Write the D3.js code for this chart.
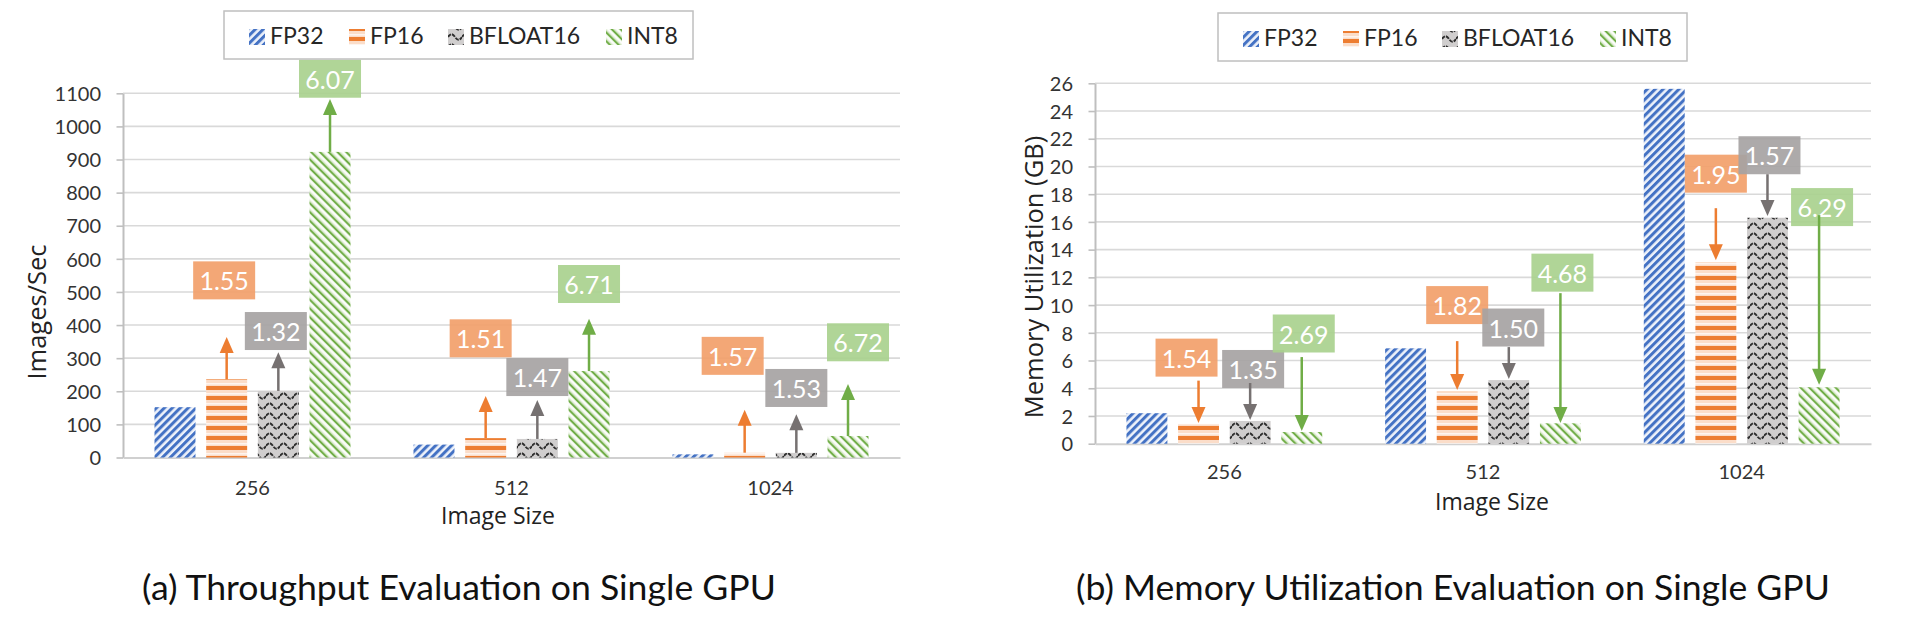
<!DOCTYPE html>
<html><head><meta charset="utf-8">
<script src="https://cdn.jsdelivr.net/npm/d3@7"></script>
<style>html,body{margin:0;padding:0;background:#fff;} svg{display:block}</style>
</head><body>
<svg id="chart" width="1920" height="620"></svg>
<script>
// ---------------- DATA ----------------
const categories = ["256", "512", "1024"];
const seriesNames = ["FP32", "FP16", "BFLOAT16", "INT8"];

// (a) Throughput (Images/Sec)
const thrFP32 = [152, 39, 9.5];
const thrFP16 = [236, 58.5, 14.5];
const thrBF16 = [201, 56, 14];
const thrINT8 = [923, 261, 65];
const thrTicks = [0, 100, 200, 300, 400, 500, 600, 700, 800, 900, 1000, 1100];
const thrRatioFP16 = ["1.55", "1.51", "1.57"];
const thrRatioBF16 = ["1.32", "1.47", "1.53"];
const thrRatioINT8 = ["6.07", "6.71", "6.72"];
// annotation anchors, in axis units
const thrTipFP16 = [364, 186, 144];
const thrTipBF16 = [318, 174, 131];
const thrTipINT8 = [1083, 419, 222];
const thrLabelFP16 = [535, 360, 307];
const thrLabelBF16 = [382, 243, 210];
const thrLabelINT8 = [1144, 524, 348];

// (b) Memory Utilization (GB)
const memFP32 = [2.2, 6.88, 25.6];
const memFP16 = [1.43, 3.8, 13.1];
const memBF16 = [1.64, 4.59, 16.3];
const memINT8 = [0.84, 1.47, 4.07];
const memTicks = [0, 2, 4, 6, 8, 10, 12, 14, 16, 18, 20, 22, 24, 26];
const memRatioFP16 = ["1.54", "1.82", "1.95"];
const memRatioBF16 = ["1.35", "1.50", "1.57"];
const memRatioINT8 = ["2.69", "4.68", "6.29"];
const memTailFP16 = [4.55, 7.40, 16.99];
const memTailBF16 = [4.38, 6.97, 19.44];
const memTailINT8 = [6.25, 10.86, 16.49];
const memTipFP16 = [1.49, 3.87, 13.24];
const memTipBF16 = [1.71, 4.66, 16.42];
const memTipINT8 = [0.92, 1.49, 4.25];
const memLabelFP16 = [6.21, 10.0, 19.48];
const memLabelBF16 = [5.39, 8.38, 20.81];
const memLabelINT8 = [7.95, 12.34, 17.07];

// ---------------- LAYOUT / STYLE ----------------
const svg = d3.select("#chart");
const boxColor = {FP16: "#F2A06A", BFLOAT16: "#A6A3A3", INT8: "#A9D18E"};
const arrowColor = {FP16: "#ED7D31", BFLOAT16: "#767171", INT8: "#70AD47"};
const patId = {FP32: "pFP32", FP16: "pFP16", BFLOAT16: "pBF16", INT8: "pINT8"};

const defs = svg.append("defs");
// FP32: wide upward diagonal
let p = defs.append("pattern").attr("id", "pFP32").attr("patternUnits", "userSpaceOnUse")
  .attr("width", 5.6).attr("height", 5.6).attr("patternTransform", "rotate(45)");
p.append("rect").attr("width", 5.6).attr("height", 5.6).attr("fill", "#EEF2FA");
p.append("rect").attr("width", 3).attr("height", 5.6).attr("fill", "#4472C4");
// FP16: wide horizontal
p = defs.append("pattern").attr("id", "pFP16").attr("patternUnits", "userSpaceOnUse")
  .attr("width", 10).attr("height", 10);
p.append("rect").attr("width", 10).attr("height", 10).attr("fill", "#FBDDC9");
p.append("rect").attr("y", 3).attr("width", 10).attr("height", 1.6).attr("fill", "#FEF4EE");
p.append("rect").attr("y", 6).attr("width", 10).attr("height", 4).attr("fill", "#ED7D31");
// BFLOAT16: wave
p = defs.append("pattern").attr("id", "pBF16").attr("patternUnits", "userSpaceOnUse")
  .attr("width", 14).attr("height", 10);
p.append("rect").attr("width", 14).attr("height", 10).attr("fill", "#D0CECE");
p.append("path").attr("d", "M0,6 Q3.5,0.5 7,6 T14,6").attr("fill", "none")
  .attr("stroke", "#2E2E2E").attr("stroke-width", 1.9).attr("stroke-dasharray", "4,1");
// INT8: dark downward diagonal
p = defs.append("pattern").attr("id", "pINT8").attr("patternUnits", "userSpaceOnUse")
  .attr("width", 6.2).attr("height", 6.2).attr("patternTransform", "rotate(-45)");
p.append("rect").attr("width", 6.2).attr("height", 6.2).attr("fill", "#E4F0DB");
p.append("rect").attr("x", 3.8).attr("width", 1.6).attr("height", 6.2).attr("fill", "#FFFFFF");
p.append("rect").attr("width", 2).attr("height", 6.2).attr("fill", "#70AD47");

function drawPanel(P) {
  const g = svg.append("g");
  const y = d3.scaleLinear().domain([0, P.max]).range([P.bottom, P.top]);
  const x0 = d3.scaleBand().domain(categories).range([P.left, P.right]);
  const bw = x0.bandwidth();
  const x1 = d3.scaleBand().domain(seriesNames)
    .range([bw * 0.1216, bw * (1 - 0.1216)]).paddingInner(0.207);

  // gridlines
  g.append("g").selectAll("line").data(P.ticks.filter(t => t > 0)).join("line")
    .attr("x1", P.left).attr("x2", P.right)
    .attr("y1", d => y(d)).attr("y2", d => y(d))
    .attr("stroke", "#D9D9D9").attr("stroke-width", 1.6);

  // y axis
  const ya = g.append("g").attr("transform", `translate(${P.left},0)`)
    .call(d3.axisLeft(y).tickValues(P.ticks).tickFormat(d3.format("d"))
      .tickSize(6.5).tickPadding(15.5).tickSizeOuter(0));
  ya.select(".domain").attr("stroke", "#BFBFBF").attr("stroke-width", 2);
  ya.selectAll(".tick line").attr("stroke", "#BFBFBF").attr("stroke-width", 1.6);
  ya.selectAll(".tick text").attr("font-family", "Lato").attr("font-size", 20)
    .attr("fill", "#333").attr("dy", "0.36em");

  // x axis
  const xa = g.append("g").attr("transform", `translate(0,${y(0)})`)
    .call(d3.axisBottom(x0).tickSize(0).tickPadding(P.xPad).tickSizeOuter(0));
  xa.select(".domain").attr("stroke", "#D0D0D0").attr("stroke-width", 2);
  xa.selectAll(".tick text").attr("font-family", "Lato").attr("font-size", 20).attr("fill", "#333");

  // bars
  seriesNames.forEach((s, si) => {
    g.append("g").selectAll("rect").data(P.values[si]).join("rect")
      .attr("x", (d, i) => x0(categories[i]) + x1(s))
      .attr("y", d => y(d))
      .attr("width", x1.bandwidth())
      .attr("height", d => y(0) - y(d))
      .attr("fill", `url(#${patId[s]})`);
  });

  // annotations
  const ann = g.append("g");
  const arr = g.append("g");
  P.ann.forEach(a => {
    a.ratio.forEach((txt, i) => {
      const cx = x0(categories[i]) + x1(a.series) + x1.bandwidth() / 2;
      const lx = cx + (a.shift ? a.shift[i] : 0);
      const ly = y(a.label[i]);
      ann.append("rect").attr("x", lx - 31).attr("y", ly - 19).attr("width", 62).attr("height", 38)
        .attr("fill", boxColor[a.series]).attr("opacity", 0.92);
      ann.append("text").attr("x", lx).attr("y", ly).attr("text-anchor", "middle")
        .attr("dominant-baseline", "central").attr("font-family", "Lato").attr("font-size", 25)
        .attr("fill", "#fff").text(txt);
      const yt = y(a.tail[i]), yp = y(a.tip[i]);
      const dir = yp < yt ? -1 : 1;
      arr.append("line").attr("x1", cx).attr("x2", cx).attr("y1", yt).attr("y2", yp - dir * 14)
        .attr("stroke", arrowColor[a.series]).attr("stroke-width", 2.5);
      arr.append("path")
        .attr("d", `M${cx},${yp} L${cx - 7},${yp - dir * 16} L${cx + 7},${yp - dir * 16} Z`)
        .attr("fill", arrowColor[a.series]);
    });
  });

  // axis titles
  g.append("text").attr("transform", `translate(${P.yTitleX},${P.yTitleY}) rotate(-90)`)
    .attr("text-anchor", "middle").attr("font-family", "Open Sans").attr("font-size", 25.5)
    .attr("fill", "#222").text(P.yTitle);
  g.append("text").attr("x", P.xTitleX).attr("y", P.xTitleY).attr("text-anchor", "middle")
    .attr("font-family", "Open Sans").attr("font-size", 23).attr("fill", "#222").text("Image Size");

  // legend
  const L = g.append("g").attr("transform", `translate(${P.legX},${P.legY})`);
  L.append("rect").attr("width", 469).attr("height", 48).attr("fill", "#fff")
    .attr("stroke", "#BFBFBF").attr("stroke-width", 1.5);
  const legOff = [25, 125, 224, 382];
  seriesNames.forEach((s, i) => {
    L.append("rect").attr("x", legOff[i]).attr("y", 18).attr("width", 16).attr("height", 16)
      .attr("fill", `url(#${patId[s]})`);
    L.append("text").attr("x", legOff[i] + 21).attr("y", 32.5).attr("font-family", "Lato")
      .attr("font-size", 23).attr("fill", "#262626").text(s);
  });

  // caption
  const cap = g.append("text").attr("x", P.capX).attr("y", 600).attr("text-anchor", "middle")
    .attr("font-family", "Lato").attr("font-size", 30).attr("fill", "#111").text(P.caption);
  const len = cap.node().getComputedTextLength();
  cap.attr("font-size", 30 * P.capW / len);
}

drawPanel({
  left: 123, right: 900, top: 93.3, bottom: 457.5, max: 1100, ticks: thrTicks, xPad: 23,
  values: [thrFP32, thrFP16, thrBF16, thrINT8],
  ann: [
    {series: "FP16", ratio: thrRatioFP16, tail: thrFP16, tip: thrTipFP16, label: thrLabelFP16, shift: [-2.5, -5, -12]},
    {series: "BFLOAT16", ratio: thrRatioBF16, tail: thrBF16, tip: thrTipBF16, label: thrLabelBF16, shift: [-2.5, 0, 0]},
    {series: "INT8", ratio: thrRatioINT8, tail: thrINT8, tip: thrTipINT8, label: thrLabelINT8, shift: [0, 0, 10]}
  ],
  yTitle: "Images/Sec", yTitleX: 46, yTitleY: 312,
  xTitleX: 498, xTitleY: 524,
  legX: 224, legY: 11,
  caption: "(a) Throughput Evaluation on Single GPU", capX: 459, capW: 634
});

drawPanel({
  left: 1095, right: 1871, top: 83.3, bottom: 443.7, max: 26, ticks: memTicks, xPad: 21.5,
  values: [memFP32, memFP16, memBF16, memINT8],
  ann: [
    {series: "FP16", ratio: memRatioFP16, tail: memTailFP16, tip: memTipFP16, label: memLabelFP16, shift: [-12, 0, 0]},
    {series: "BFLOAT16", ratio: memRatioBF16, tail: memTailBF16, tip: memTipBF16, label: memLabelBF16, shift: [3, 4.5, 2]},
    {series: "INT8", ratio: memRatioINT8, tail: memTailINT8, tip: memTipINT8, label: memLabelINT8, shift: [2, 2, 3]}
  ],
  yTitle: "Memory Utilization (GB)", yTitleX: 1043, yTitleY: 277,
  xTitleX: 1492, xTitleY: 509.5,
  legX: 1218, legY: 13,
  caption: "(b) Memory Utilization Evaluation on Single GPU", capX: 1453, capW: 754
});
</script></body></html>
